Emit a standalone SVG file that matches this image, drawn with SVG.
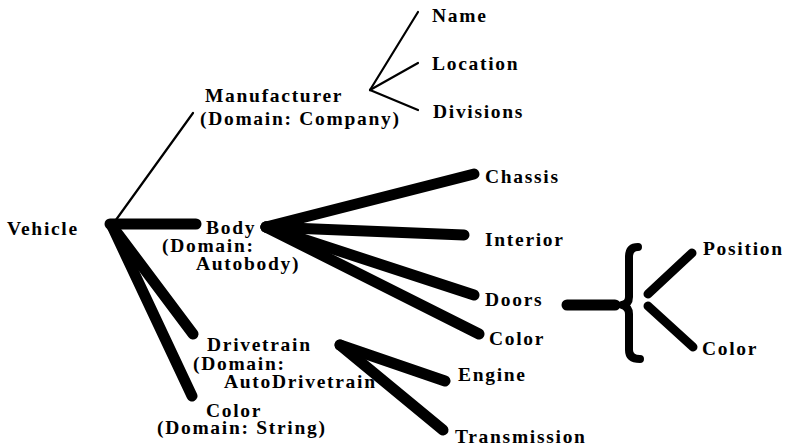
<svg xmlns="http://www.w3.org/2000/svg" width="785" height="448" viewBox="0 0 785 448">
<style>
text{font-family:"Liberation Serif","Times New Roman",serif;font-weight:bold;font-size:19.5px;letter-spacing:1.7px;fill:#000}
.thin{stroke:#000;stroke-width:2.2;fill:none;stroke-linecap:round}
.thick{stroke:#000;stroke-width:11;fill:none;stroke-linecap:round;stroke-linejoin:round}
.brace{stroke:#000;stroke-width:8;fill:none;stroke-linecap:round;stroke-linejoin:round}
</style>
<rect width="785" height="448" fill="#fff"/>
<g id="connectors">
<line class="thin" x1="113" y1="224" x2="193" y2="113"/>
<line class="thin" x1="370" y1="90" x2="418" y2="12"/>
<line class="thin" x1="370" y1="90" x2="418" y2="63"/>
<line class="thin" x1="370" y1="90" x2="418" y2="110"/>
<line class="thick" x1="110" y1="224" x2="196" y2="224"/>
<line class="thick" x1="112" y1="226" x2="193" y2="334"/>
<line class="thick" x1="112" y1="226" x2="192" y2="396"/>
<line class="thick" x1="266" y1="227" x2="474" y2="174"/>
<line class="thick" x1="266" y1="227" x2="464" y2="235"/>
<line class="thick" x1="266" y1="227" x2="474" y2="295"/>
<line class="thick" x1="266" y1="227" x2="479" y2="334"/>
<line class="thick" x1="340" y1="345" x2="445" y2="381"/>
<line class="thick" x1="340" y1="345" x2="443" y2="430"/>
<line class="thick" x1="567" y1="305" x2="615" y2="305"/>
<path class="brace" d="M638 247 Q629 247 629 257 L629 297 Q629 304 622 305 Q629 307 629 314 L629 350 Q629 359 640 359"/>
<line class="thick" style="stroke-width:9" x1="648" y1="294" x2="692" y2="253"/>
<line class="thick" style="stroke-width:9" x1="648" y1="306" x2="693" y2="347"/>
</g>
<g id="vehicle"><text x="7" y="235">Vehicle</text></g>
<g id="manufacturer"><text x="205" y="102">Manufacturer</text><text x="200" y="125">(Domain:  Company)</text></g>
<g id="name"><text x="432" y="22">Name</text></g>
<g id="location"><text x="432" y="70">Location</text></g>
<g id="divisions"><text x="433" y="118">Divisions</text></g>
<g id="body"><text x="206" y="234">Body</text><text x="162" y="252">(Domain:</text><text x="196" y="270">Autobody)</text></g>
<g id="chassis"><text x="485" y="183">Chassis</text></g>
<g id="interior"><text x="485" y="246">Interior</text></g>
<g id="doors"><text x="485" y="306">Doors</text></g>
<g id="body-color"><text x="489" y="345">Color</text></g>
<g id="position"><text x="703" y="255">Position</text></g>
<g id="doors-color"><text x="702" y="355">Color</text></g>
<g id="drivetrain"><text x="207" y="351">Drivetrain</text><text x="193" y="370">(Domain:</text><text x="224" y="388">AutoDrivetrain</text></g>
<g id="engine"><text x="458" y="381">Engine</text></g>
<g id="transmission"><text x="455" y="443">Transmission</text></g>
<g id="vehicle-color"><text x="206" y="417">Color</text><text x="157" y="434">(Domain:  String)</text></g>
</svg>
